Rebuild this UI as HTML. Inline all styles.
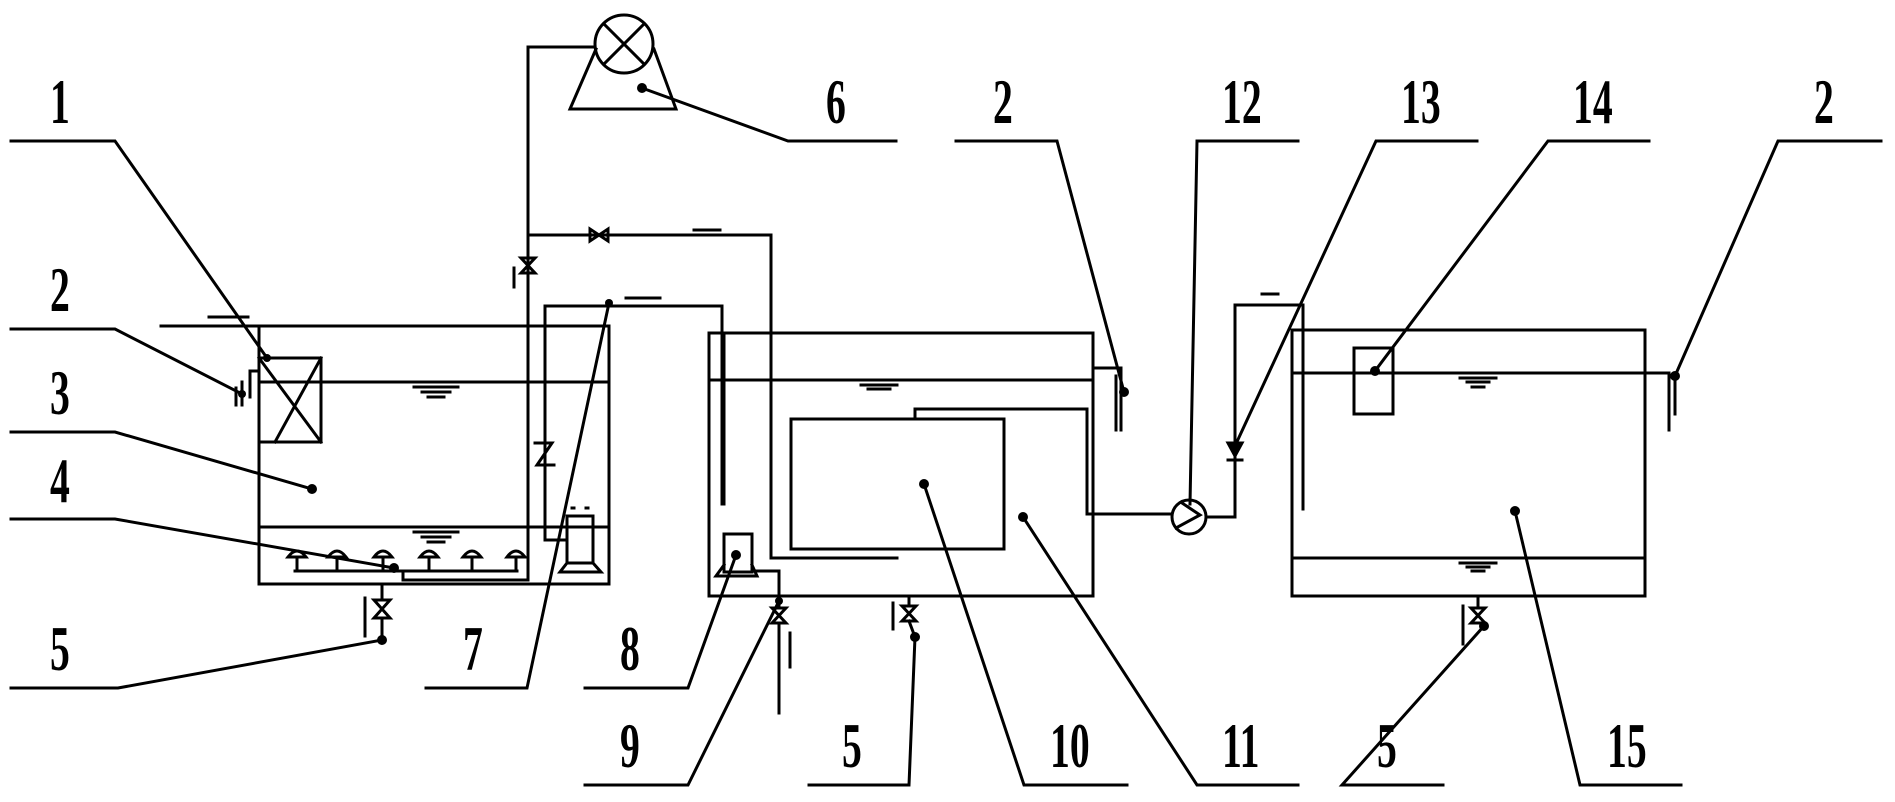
<!DOCTYPE html>
<html><head><meta charset="utf-8"><style>
html,body{margin:0;padding:0;background:#fff;overflow:hidden;}
svg{display:block;}
text{font-family:"Liberation Serif",serif;font-size:64px;font-weight:bold;fill:#000;}
</style></head><body>
<svg width="1895" height="802" viewBox="0 0 1895 802" xmlns="http://www.w3.org/2000/svg">
<g stroke="#000" stroke-width="3" fill="none" stroke-linecap="square">
<polyline points="11,141 115,141 267,358"/>
<polyline points="11,329 115,329 242,394"/>
<polyline points="11,432 115,432 312,489"/>
<polyline points="11,519 115,519 394,568"/>
<polyline points="11,688 118,688 382,640"/>
<polyline points="896,141 788,141 642,88"/>
<polyline points="426,688 527,688 609,303"/>
<polyline points="585,688 688,688 736,555"/>
<polyline points="585,785 688,785 779,601"/>
<polyline points="809,785 909,785 915,637"/>
<polyline points="956,141 1057,141 1124,392"/>
<polyline points="1298,141 1197,141 1190,504"/>
<polyline points="1477,141 1376,141 1235,446"/>
<polyline points="1649,141 1548,141 1375,371"/>
<polyline points="1881,141 1778,141 1675,376"/>
<polyline points="1127,785 1024,785 924,484"/>
<polyline points="1298,785 1197,785 1023,517"/>
<polyline points="1443,785 1342,785 1484,626"/>
<polyline points="1681,785 1580,785 1515,511"/>

<!-- tank 1 -->
<rect x="259" y="326" width="350" height="258"/>
<line x1="161" y1="326" x2="259" y2="326"/>
<line x1="209" y1="317" x2="248" y2="317"/>
<line x1="259" y1="382" x2="609" y2="382"/>
<line x1="259" y1="527" x2="609" y2="527"/>
<rect x="259" y="358" width="62" height="84"/>
<line x1="259" y1="358" x2="321" y2="442"/>
<line x1="321" y1="358" x2="275" y2="442"/>
<polyline points="259,371 250,371 250,397"/>
<line x1="242" y1="382" x2="242" y2="405"/>
<line x1="236" y1="388" x2="236" y2="405"/>
<line x1="414" y1="387" x2="458" y2="387"/><line x1="422" y1="392" x2="450" y2="392"/><line x1="428" y1="397" x2="444" y2="397"/>
<line x1="414" y1="532" x2="458" y2="532"/><line x1="422" y1="537" x2="450" y2="537"/><line x1="428" y1="542" x2="444" y2="542"/>
<line x1="295" y1="571" x2="517" y2="571"/>
<polyline points="403,571 403,580 528,580"/>
<path d="M288,557 Q297,545 306,557 Z"/><line x1="297" y1="557" x2="297" y2="571"/>
<path d="M328,557 Q337,545 346,557 Z"/><line x1="337" y1="557" x2="337" y2="571"/>
<path d="M374,557 Q383,545 392,557 Z"/><line x1="383" y1="557" x2="383" y2="571"/>
<path d="M420,557 Q429,545 438,557 Z"/><line x1="429" y1="557" x2="429" y2="571"/>
<path d="M463,557 Q472,545 481,557 Z"/><line x1="472" y1="557" x2="472" y2="571"/>
<path d="M507,557 Q516,545 525,557 Z"/><line x1="516" y1="557" x2="516" y2="571"/>
<line x1="382" y1="584" x2="382" y2="600"/>
<path d="M374,600 L390,600 L374,618 L390,618 Z"/>
<line x1="382" y1="618" x2="382" y2="638"/>
<line x1="365" y1="598" x2="365" y2="636"/>
<!-- air pipe -->
<polyline points="528,580 528,47 594,47"/>
<path d="M521,258 L535,258 L521,273 L535,273 Z"/>
<line x1="514" y1="268" x2="514" y2="287"/>
<polyline points="528,235 771,235 771,558 897,558"/>
<path d="M590,229 L590,241 L608,229 L608,241 Z"/>
<line x1="694" y1="230" x2="720" y2="230"/>
<polyline points="596,49 570,109 676,109 654,49"/>
<!-- pipe 7 -->
<polyline points="567,540 545,540 545,306 722,306 722,504"/>
<polyline points="535,443 552,443 537,465 554,465"/>
<line x1="626" y1="298" x2="660" y2="298"/>
<rect x="567" y="516" width="26" height="47"/>
<path d="M567,563 L560,572 L601,572 L593,563"/>
<line x1="572" y1="508" x2="574" y2="508"/><line x1="586" y1="508" x2="588" y2="508"/>
<!-- tank 11 -->
<rect x="709" y="333" width="384" height="263"/>
<line x1="709" y1="380" x2="1093" y2="380"/>
<line x1="861" y1="385" x2="897" y2="385"/><line x1="868" y1="389" x2="890" y2="389"/>
<line x1="724" y1="333" x2="724" y2="504"/>
<rect x="791" y="419" width="213" height="130"/>
<polyline points="915,419 915,409 1087,409 1087,514 1171,514"/>
<rect x="724" y="534" width="28" height="38"/>
<path d="M724,565 L716,576 L757,576 L752,565"/>
<polyline points="755,571 779,571 779,596"/>
<line x1="779" y1="596" x2="779" y2="608"/>
<path d="M772,608 L786,608 L772,623 L786,623 Z"/>
<line x1="779" y1="623" x2="779" y2="713"/>
<line x1="790" y1="633" x2="790" y2="667"/>
<line x1="909" y1="596" x2="909" y2="606"/>
<path d="M902,606 L916,606 L902,621 L916,621 Z"/>
<line x1="909" y1="621" x2="915" y2="637"/>
<line x1="893" y1="603" x2="893" y2="629"/>
<line x1="1093" y1="368" x2="1121" y2="368"/>
<line x1="1121" y1="368" x2="1121" y2="430"/>
<line x1="1116" y1="376" x2="1116" y2="430"/>
<polyline points="1207,517 1235,517 1235,305 1303,305 1303,509"/>
<path d="M1228,443 L1242,443 L1235,456 Z" fill="#000"/>
<line x1="1228" y1="460" x2="1242" y2="460"/>
<line x1="1262" y1="294" x2="1278" y2="294"/>
<!-- tank 15 -->
<rect x="1292" y="330" width="353" height="266"/>
<line x1="1292" y1="373" x2="1669" y2="373"/>
<line x1="1292" y1="558" x2="1645" y2="558"/>
<rect x="1354" y="348" width="39" height="66"/>
<line x1="1460" y1="378" x2="1496" y2="378"/><line x1="1467" y1="382" x2="1489" y2="382"/><line x1="1472" y1="387" x2="1484" y2="387"/>
<line x1="1460" y1="563" x2="1496" y2="563"/><line x1="1467" y1="567" x2="1489" y2="567"/><line x1="1472" y1="571" x2="1484" y2="571"/>
<line x1="1669" y1="373" x2="1669" y2="430"/>
<line x1="1675" y1="376" x2="1675" y2="414"/>
<line x1="1478" y1="596" x2="1478" y2="608"/>
<path d="M1471,608 L1485,608 L1471,623 L1485,623 Z"/>
<line x1="1463" y1="606" x2="1463" y2="644"/>
<!-- blower & pump circles -->
<circle cx="624" cy="44" r="29"/>
<line x1="604" y1="24" x2="644" y2="64"/><line x1="644" y1="24" x2="604" y2="64"/>
<circle cx="1189" cy="517" r="17"/>
<polyline points="1176,528 1200,515 1182,503"/>
</g>
<g fill="#000">
<circle cx="267" cy="358" r="4"/><circle cx="242" cy="394" r="4"/><circle cx="312" cy="489" r="5"/>
<circle cx="394" cy="568" r="5"/><circle cx="382" cy="640" r="5"/><circle cx="642" cy="88" r="5"/>
<circle cx="609" cy="303" r="4"/><circle cx="736" cy="555" r="5"/><circle cx="779" cy="601" r="4"/>
<circle cx="915" cy="637" r="5"/><circle cx="1124" cy="392" r="5"/><circle cx="1235" cy="446" r="4"/>
<circle cx="1375" cy="371" r="5"/><circle cx="1675" cy="376" r="5"/><circle cx="924" cy="484" r="5"/>
<circle cx="1023" cy="517" r="5"/><circle cx="1484" cy="626" r="5"/><circle cx="1515" cy="511" r="5"/>
</g>
<g>
<text transform="translate(50,123) scale(0.62,1)">1</text>
<text transform="translate(50,311) scale(0.62,1)">2</text>
<text transform="translate(50,414) scale(0.62,1)">3</text>
<text transform="translate(50,502) scale(0.62,1)">4</text>
<text transform="translate(50,670) scale(0.62,1)">5</text>
<text transform="translate(826,123) scale(0.62,1)">6</text>
<text transform="translate(463,670) scale(0.62,1)">7</text>
<text transform="translate(620,670) scale(0.62,1)">8</text>
<text transform="translate(620,767) scale(0.62,1)">9</text>
<text transform="translate(842,767) scale(0.62,1)">5</text>
<text transform="translate(993,123) scale(0.62,1)">2</text>
<text transform="translate(1222,123) scale(0.62,1)">12</text>
<text transform="translate(1401,123) scale(0.62,1)">13</text>
<text transform="translate(1573,123) scale(0.62,1)">14</text>
<text transform="translate(1814,123) scale(0.62,1)">2</text>
<text transform="translate(1050,767) scale(0.62,1)">10</text>
<text transform="translate(1222,767) scale(0.62,1)">11</text>
<text transform="translate(1377,767) scale(0.62,1)">5</text>
<text transform="translate(1607,767) scale(0.62,1)">15</text>
</g>
</svg>
</body></html>
